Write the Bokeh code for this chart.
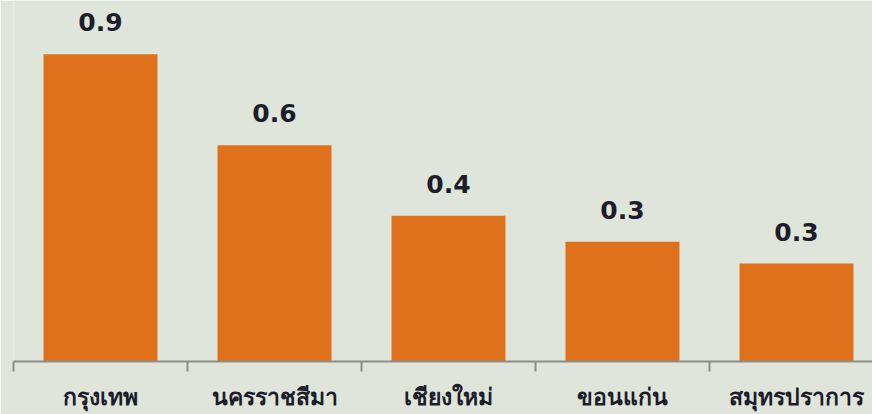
from bokeh.plotting import figure
from bokeh.models import Range1d, FixedTicker, LinearAxis, ColumnDataSource
from bokeh.embed import file_html
from bokeh.resources import INLINE
from bokeh.core.properties import value

categories = ["กรุงเทพ", "นครราชสีมา", "เชียงใหม่", "ขอนแก่น", "สมุทรปราการ"]
values = [0.90, 0.634, 0.427, 0.351, 0.287]
value_labels = ["0.9", "0.6", "0.4", "0.3", "0.3"]

xs = list(range(len(categories)))
PX_PER_UNIT = 342.2
src = ColumnDataSource(dict(x=xs, top=values, lab=value_labels))

BG = "#dfe5da"
W, H = 872, 414
p = figure(width=W, height=H, output_backend="svg", toolbar_location=None,
           x_range=Range1d(-0.5, -0.5 + (W - 13) / 174.0), y_range=Range1d(0, 362 / PX_PER_UNIT),
           x_axis_location=None, y_axis_location=None,
           min_border_left=13, min_border_right=0, min_border_top=0, min_border_bottom=52)
p.background_fill_color = BG
p.border_fill_color = BG
p.outline_line_color = None
p.xgrid.visible = False
p.ygrid.visible = False

p.vbar(x="x", top="top", width=0.655, bottom=0, source=src,
       fill_color="#df711c", line_color=None)
p.text(x="x", y="top", text="lab", source=src, text_align="center",
       text_baseline="middle", y_offset=-32,
       text_font=value("DejaVu Sans"), text_font_style="bold",
       text_font_size="25px", text_color="#1c1c2a")

ax = LinearAxis(ticker=FixedTicker(ticks=xs, minor_ticks=[i - 0.5 for i in range(len(categories) + 1)]))
ax.major_label_overrides = {i: c for i, c in enumerate(categories)}
ax.major_tick_out = 0
ax.major_tick_in = 0
ax.minor_tick_out = 10
ax.minor_tick_in = 0
ax.minor_tick_line_color = "#8c8c8c"
ax.minor_tick_line_width = 2
ax.axis_line_color = "#8c8c8c"
ax.axis_line_width = 2
ax.major_label_standoff = 8
ax.major_label_text_font = "Noto Sans"
ax.major_label_text_font_style = "bold"
ax.major_label_text_font_size = "23px"
ax.major_label_text_color = "#1c1c2a"
p.add_layout(ax, "below")

open("out.html", "w").write(file_html(p, INLINE))
